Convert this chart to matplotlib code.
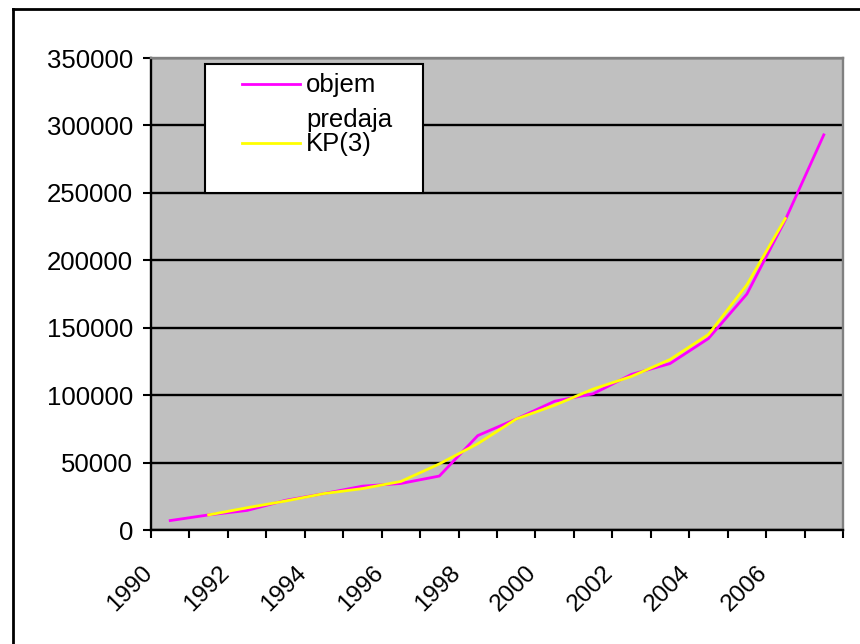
"""
Objem predaja 1990-2007 with a centred 3-year moving average, KP(3).

Redraws the old Excel line chart (grey plot area, black gridlines).
"""

import matplotlib

matplotlib.use("Agg")
import matplotlib.pyplot as plt
from matplotlib.lines import Line2D
from matplotlib.patches import Rectangle


YEARS = list(range(1990, 2008))

# objem predaja (sales volume)
SALES = [
    7000, 11200, 14500, 22000, 27000, 32500, 34500, 40000, 70000,
    82300, 95500, 101000, 115400, 123400, 142000, 175000, 230000, 293000,
]

# KP(3) runs from 1991 to 2006
MA_YEARS = list(range(1991, 2007))
MA3 = [
    11200, 16500, 21500, 27000, 30700, 36000, 49000, 64000,
    82300, 92500, 104500, 113900, 126400, 145000, 181800, 231000,
]

Y_TICKS = list(range(0, 350001, 50000))
LABEL_YEARS = list(range(1990, 2007, 2))

W, H = 860, 644
FONT = ["Liberation Sans", "DejaVu Sans"]


def fx(x):
    return x / W


def fy(y):
    return 1 - y / H


def add_legend(fig):
    fig.add_artist(Rectangle((fx(205), fy(193)), fx(423) - fx(205), fy(64) - fy(193),
                             transform=fig.transFigure, facecolor="white",
                             edgecolor="black", linewidth=1.5, zorder=5))
    for y, color in [(84, "#FF00FF"), (143, "#FFFF00")]:
        fig.add_artist(Line2D([fx(242), fx(300)], [fy(y), fy(y)],
                              transform=fig.transFigure, color=color,
                              linewidth=2, zorder=6))
    for y, text in [(92, "objem"), (127, "predaja"), (151, "KP(3)")]:
        fig.text(fx(306), fy(y), text, fontsize=18.5, va="baseline",
                 ha="left", zorder=7)


def main():
    plt.rcParams["font.family"] = FONT

    fig = plt.figure(figsize=(W / 100, H / 100), dpi=100)
    ax = fig.add_axes([fx(151), fy(530), fx(843) - fx(151), fy(58) - fy(530)])
    ax.set_facecolor("#C0C0C0")

    xs = [YEARS.index(y) + 0.5 for y in YEARS]
    ma_xs = [YEARS.index(y) + 0.5 for y in MA_YEARS]
    ax.plot(xs, SALES, color="#FF00FF", linewidth=2, zorder=3)
    ax.plot(ma_xs, MA3, color="#FFFF00", linewidth=2, zorder=4)

    ax.set_xlim(0, len(YEARS))
    ax.set_ylim(0, 350000)

    ax.set_yticks(Y_TICKS)
    ax.set_yticklabels([str(v) for v in Y_TICKS])
    ax.yaxis.grid(True, color="black", linewidth=1.7)
    ax.set_axisbelow(True)

    # tick marks on category edges, year labels just right of every other edge
    ax.set_xticks(range(len(YEARS) + 1))
    ax.set_xticklabels([])
    ax.set_xticks([YEARS.index(y) + 0.15 for y in LABEL_YEARS], minor=True)
    ax.set_xticklabels([str(y) for y in LABEL_YEARS], minor=True,
                       rotation=45, ha="right", va="top")

    ax.tick_params(axis="both", which="major", direction="out", length=6,
                   width=1.5, color="black", labelsize=18.5)
    ax.tick_params(axis="y", pad=7)
    ax.tick_params(axis="x", which="minor", length=0, pad=23, labelsize=17.5)

    for side in ["left", "bottom"]:
        ax.spines[side].set_color("black")
        ax.spines[side].set_linewidth(1.7)
    for side in ["top", "right"]:
        ax.spines[side].set_color("#808080")
        ax.spines[side].set_linewidth(1.7)

    # outer chart frame, runs off the right and bottom of the picture
    fig.add_artist(Line2D([fx(13), fx(13)], [fy(9), -0.05], transform=fig.transFigure,
                          color="black", linewidth=2))
    fig.add_artist(Line2D([fx(13), 1.05], [fy(9), fy(9)], transform=fig.transFigure,
                          color="black", linewidth=2))

    add_legend(fig)

    fig.savefig("out.png", dpi=100)


if __name__ == "__main__":
    main()
